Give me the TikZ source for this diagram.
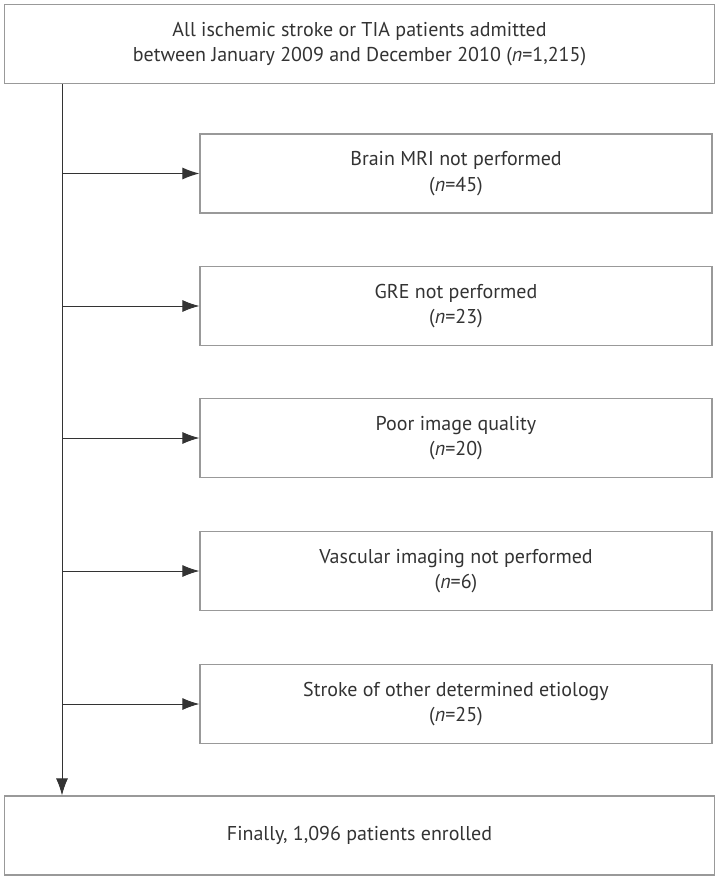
\documentclass[tikz,border=0pt]{standalone}
\usepackage{fontspec}
\setmainfont{PT Sans}
\usetikzlibrary{arrows.meta}

\tikzset{
  box/.style={draw=black!40, line width=1.3pt, fill=white, inner sep=0pt, align=center,
    font=\fontsize{20}{25.5}\selectfont, text=black!80},
  widebox/.style={box, minimum width=710, minimum height=79},
  sidebox/.style={box, minimum width=512, minimum height=79},
  arr/.style={draw=black!80, line width=0.9pt, -{Latex[length=17pt, width=12pt]}}
}

\begin{document}
\begin{tikzpicture}[x=1pt, y=-1pt]
			%%%%% START %%%%%
			\useasboundingbox (0, 0) rectangle (718, 880);
			
			\node[widebox] (all) at (359.5, 44) {All ischemic stroke or TIA patients admitted\\between January 2009 and December 2010 (\textit{n}=1,215)};
			
			\node[sidebox] (mri) at (456, 173.5) {Brain MRI not performed\\(\textit{n}=45)};
			\node[sidebox] (gre) at (456, 306) {GRE not performed\\(\textit{n}=23)};
			\node[sidebox] (poor) at (456, 438) {Poor image quality\\(\textit{n}=20)};
			\node[sidebox] (vasc) at (456, 571) {Vascular imaging not performed\\(\textit{n}=6)};
			\node[sidebox] (other) at (456, 704) {Stroke of other determined etiology\\(\textit{n}=25)};
			
			\node[widebox] (final) at (359.5, 835.5) {Finally, 1,096 patients enrolled};
			
			\coordinate (spine) at (62, 0);
			
			\draw[arr] (all.south -| spine) -- (final.north -| spine);
			\foreach \b in {mri, gre, poor, vasc, other}
				\draw[arr] (\b.west -| spine) -- (\b.west);
			%%%%% END %%%%%
\end{tikzpicture}
\end{document}
